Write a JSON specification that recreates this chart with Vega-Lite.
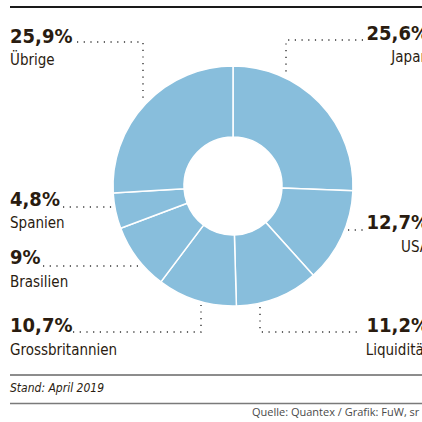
{
  "$schema": "https://vega.github.io/schema/vega-lite/v6.json",
  "width": 422,
  "height": 422,
  "padding": 0,
  "autosize": "none",
  "background": "white",
  "config": {"view": {"stroke": null}},
  "datasets": {
    "slices": [
      {"land": "Japan", "anteil": 25.6, "rang": 1},
      {"land": "USA", "anteil": 12.7, "rang": 2},
      {"land": "Liquidität", "anteil": 11.2, "rang": 3},
      {"land": "Grossbritannien", "anteil": 10.7, "rang": 4},
      {"land": "Brasilien", "anteil": 9.0, "rang": 5},
      {"land": "Spanien", "anteil": 4.8, "rang": 6},
      {"land": "Übrige", "anteil": 25.9, "rang": 7}
    ],
    "leaders": [
      {"land": "Übrige", "i": 1, "x": 77, "y": 42},
      {"land": "Übrige", "i": 2, "x": 143, "y": 42},
      {"land": "Übrige", "i": 3, "x": 143, "y": 103},
      {"land": "Japan", "i": 1, "x": 363, "y": 40},
      {"land": "Japan", "i": 2, "x": 286, "y": 40},
      {"land": "Japan", "i": 3, "x": 286, "y": 76},
      {"land": "Spanien", "i": 1, "x": 63, "y": 207},
      {"land": "Spanien", "i": 2, "x": 112, "y": 207},
      {"land": "Brasilien", "i": 1, "x": 43, "y": 266},
      {"land": "Brasilien", "i": 2, "x": 139, "y": 266},
      {"land": "Grossbritannien", "i": 1, "x": 73, "y": 332},
      {"land": "Grossbritannien", "i": 2, "x": 201, "y": 332},
      {"land": "Grossbritannien", "i": 3, "x": 201, "y": 305},
      {"land": "Liquidität", "i": 1, "x": 260, "y": 307},
      {"land": "Liquidität", "i": 2, "x": 260, "y": 332},
      {"land": "Liquidität", "i": 3, "x": 362, "y": 332},
      {"land": "USA", "i": 1, "x": 348, "y": 230},
      {"land": "USA", "i": 2, "x": 368, "y": 230}
    ],
    "labels": [
      {"land": "Übrige", "pct": "25,9%", "seite": "links", "x": 10, "yp": 43, "yl": 65},
      {"land": "Japan", "pct": "25,6%", "seite": "rechts", "x": 429, "yp": 40, "yl": 62},
      {"land": "Spanien", "pct": "4,8%", "seite": "links", "x": 10, "yp": 206, "yl": 228},
      {"land": "Brasilien", "pct": "9%", "seite": "links", "x": 10, "yp": 264, "yl": 287},
      {"land": "USA", "pct": "12,7%", "seite": "rechts", "x": 429, "yp": 229, "yl": 252},
      {"land": "Grossbritannien", "pct": "10,7%", "seite": "links", "x": 10, "yp": 332, "yl": 355},
      {"land": "Liquidität", "pct": "11,2%", "seite": "rechts", "x": 429, "yp": 332, "yl": 355}
    ],
    "linien": [
      {"art": "oben", "x": 10, "x2": 422, "y": 7},
      {"art": "unten", "x": 10, "x2": 422, "y": 375},
      {"art": "fuss", "x": 10, "x2": 422, "y": 403.5}
    ]
  },
  "layer": [
    {
      "data": {"name": "linien"},
      "transform": [{"filter": "datum.art == 'oben'"}],
      "mark": {"type": "rule", "color": "#1a1a1a", "strokeWidth": 2},
      "encoding": {
        "x": {"field": "x", "type": "quantitative", "scale": {"domain": [0, 422], "nice": false, "zero": false}, "axis": null},
        "x2": {"field": "x2"},
        "y": {"field": "y", "type": "quantitative", "scale": {"domain": [0, 422], "reverse": true, "nice": false, "zero": false}, "axis": null}
      }
    },
    {
      "data": {"name": "linien"},
      "transform": [{"filter": "datum.art == 'unten'"}],
      "mark": {"type": "rule", "color": "#1a1a1a", "strokeWidth": 1},
      "encoding": {
        "x": {"field": "x", "type": "quantitative"},
        "x2": {"field": "x2"},
        "y": {"field": "y", "type": "quantitative"}
      }
    },
    {
      "data": {"name": "linien"},
      "transform": [{"filter": "datum.art == 'fuss'"}],
      "mark": {"type": "rule", "color": "#7a7a7a", "strokeWidth": 1.5},
      "encoding": {
        "x": {"field": "x", "type": "quantitative"},
        "x2": {"field": "x2"},
        "y": {"field": "y", "type": "quantitative"}
      }
    },
    {
      "data": {"name": "slices"},
      "mark": {"type": "arc", "innerRadius": 49, "outerRadius": 120, "color": "#88bedc", "stroke": "white", "strokeWidth": 1.5},
      "encoding": {
        "theta": {"field": "anteil", "type": "quantitative", "stack": true},
        "order": {"field": "rang", "type": "quantitative"},
        "x": {"datum": 233, "type": "quantitative"},
        "y": {"datum": 186, "type": "quantitative"}
      }
    },
    {
      "data": {"name": "leaders"},
      "mark": {"type": "line", "color": "#333333", "strokeWidth": 1.4, "strokeDash": [1.2, 5.5], "strokeCap": "butt"},
      "encoding": {
        "x": {"field": "x", "type": "quantitative"},
        "y": {"field": "y", "type": "quantitative"},
        "detail": {"field": "land"},
        "order": {"field": "i", "type": "quantitative"}
      }
    },
    {
      "data": {"name": "labels"},
      "transform": [{"filter": "datum.seite == 'links'"}],
      "mark": {"type": "text", "align": "left", "baseline": "alphabetic", "font": "DejaVu Sans Condensed", "fontWeight": "bold", "fontSize": 20, "color": "#2a1c10"},
      "encoding": {
        "x": {"field": "x", "type": "quantitative"},
        "y": {"field": "yp", "type": "quantitative"},
        "text": {"field": "pct"}
      }
    },
    {
      "data": {"name": "labels"},
      "transform": [{"filter": "datum.seite == 'links'"}],
      "mark": {"type": "text", "align": "left", "baseline": "alphabetic", "font": "DejaVu Sans Condensed", "fontSize": 15, "color": "#2a1c10"},
      "encoding": {
        "x": {"field": "x", "type": "quantitative"},
        "y": {"field": "yl", "type": "quantitative"},
        "text": {"field": "land"}
      }
    },
    {
      "data": {"name": "labels"},
      "transform": [{"filter": "datum.seite == 'rechts'"}],
      "mark": {"type": "text", "align": "right", "baseline": "alphabetic", "font": "DejaVu Sans Condensed", "fontWeight": "bold", "fontSize": 20, "color": "#2a1c10"},
      "encoding": {
        "x": {"field": "x", "type": "quantitative"},
        "y": {"field": "yp", "type": "quantitative"},
        "text": {"field": "pct"}
      }
    },
    {
      "data": {"name": "labels"},
      "transform": [{"filter": "datum.seite == 'rechts'"}],
      "mark": {"type": "text", "align": "right", "baseline": "alphabetic", "font": "DejaVu Sans Condensed", "fontSize": 15, "color": "#2a1c10"},
      "encoding": {
        "x": {"field": "x", "type": "quantitative"},
        "y": {"field": "yl", "type": "quantitative"},
        "text": {"field": "land"}
      }
    },
    {
      "data": {"values": [{"text": "Stand: April 2019", "x": 10, "y": 392}]},
      "mark": {"type": "text", "align": "left", "baseline": "alphabetic", "font": "DejaVu Sans Condensed", "fontStyle": "italic", "fontSize": 12, "color": "#2a1c10"},
      "encoding": {
        "x": {"field": "x", "type": "quantitative"},
        "y": {"field": "y", "type": "quantitative"},
        "text": {"field": "text"}
      }
    },
    {
      "data": {"values": [{"text": "Quelle: Quantex / Grafik: FuW, sr", "x": 252, "y": 416}]},
      "mark": {"type": "text", "align": "left", "baseline": "alphabetic", "font": "Open Sans", "fontSize": 11, "color": "#4a4a4a"},
      "encoding": {
        "x": {"field": "x", "type": "quantitative"},
        "y": {"field": "y", "type": "quantitative"},
        "text": {"field": "text"}
      }
    }
  ]
}
